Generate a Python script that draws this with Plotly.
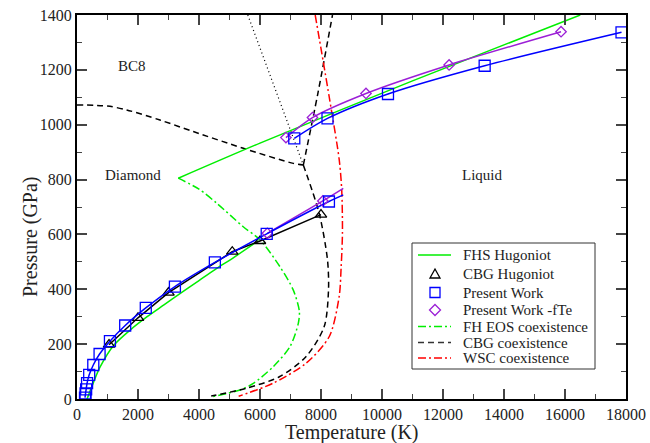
import plotly.graph_objects as go

# ---------------- data ----------------
# FHS Hugoniot (green solid), two branches
fhs_lower_T = [330, 450, 750, 1200, 1750, 2300, 2850, 3400, 4000, 4525, 5100, 5950]
fhs_lower_P = [0, 35, 115, 195, 252, 300, 343, 386, 432, 472, 513, 577]
fhs_upper_T = [3320, 6000, 11000, 16500]
fhs_upper_P = [805, 933, 1160, 1400]

# CBG Hugoniot (black triangles)
cbg_T = [1050, 2000, 3000, 5090, 6000, 8000]
cbg_P = [198, 296, 388, 537, 576, 672]

# Present Work (blue squares)
pw_lower_T = [262, 280, 300, 330, 400, 534, 740, 1080, 1580, 2255, 3210, 4520, 6220, 8260]
pw_lower_P = [5, 20, 35, 58, 88, 124, 164, 211, 268, 332, 410, 498, 602, 720]
pw_lower_end_T = [8730]
pw_lower_end_P = [744]
pw_upper_T = [7124, 8213, 10196, 13366, 17853]
pw_upper_P = [950, 1023, 1112, 1215, 1337]

# Present Work -fTe (purple diamonds)
fte_lower_T = [6240, 8060]
fte_lower_P = [604, 722]
fte_lower_end_T = [8730]
fte_lower_end_P = [768]
fte_upper_T = [6850, 7720, 9475, 12200, 15870]
fte_upper_P = [953, 1026, 1114, 1218, 1339]

# FH EOS coexistence (green dash-dot)
fh_coex_T = [3320, 4000, 4600, 5450, 6000, 6656, 7092, 7290, 7256, 6984, 6436, 5780, 5344, 4416]
fh_coex_P = [805, 765, 712, 628, 580, 482, 397, 320, 276, 191, 118, 57, 33, 8]

# CBG coexistence (black dashed): three branches meeting at a triple point
cbg_bc8_T = [0, 1000, 1629, 2721, 3813, 5453, 7092, 7420]
cbg_bc8_P = [1072, 1068, 1054, 1017, 975, 914, 859, 853]
cbg_melt_hi_T = [7420, 7890, 8377]
cbg_melt_hi_P = [853, 1110, 1400]
cbg_melt_lo_T = [7420, 7940, 8213, 8246, 8105, 7506, 6634, 5546, 4400]
cbg_melt_lo_P = [853, 677, 507, 397, 264, 154, 81, 39, 11]

# dotted black line (diamond/BC8 boundary)
dot_T = [5600, 7420]
dot_P = [1400, 853]

# WSC coexistence (red dash-dot)
wsc_T = [7810, 8268, 8600, 8680, 8703, 8660, 8595, 8268, 7506, 6416, 5300]
wsc_P = [1400, 1102, 870, 760, 604, 480, 373, 227, 130, 57, 10]

# region labels
region_labels = ["BC8", "Diamond", "Liquid"]
region_T = [1793, 1826, 13270]
region_P = [1214, 817, 817]

x_ticks = list(range(0, 18001, 2000))
x_tick_text = [str(v) for v in x_ticks]
y_ticks = list(range(0, 1401, 200))
y_tick_text = [str(v) for v in y_ticks]

x_title = "Temperature (K)"
y_title = "Pressure (GPa)"
legend_names = ["FHS Hugoniot", "CBG Hugoniot", "Present Work", "Present Work -fTe",
                "FH EOS coexistence", "CBG coexistence", "WSC coexistence"]

# ---------------- styling ----------------
FONT = "Liberation Serif"
GREEN = "#00ee00"
BLUE = "#0000ff"
PURPLE = "#9b1fd6"
RED = "#ff0000"
BLACK = "#000000"
TXT = "#222222"
LW = 1.5
DASH = "6px,4px"
DASHDOT = "8px,3px,2px,3px"

W, H = 650, 443
PLOT_L, PLOT_R, PLOT_T, PLOT_B = 77, 626, 15, 399   # plot area in page pixels
ML, MT, MR, MB = PLOT_L, PLOT_T, W - PLOT_R, H - PLOT_B
PW, PH = PLOT_R - PLOT_L, PLOT_B - PLOT_T

fig = go.Figure()

def line(x, y, color, dash="solid", width=LW, shape="spline"):
    fig.add_trace(go.Scatter(
        x=x, y=y, mode="lines", showlegend=False,
        line=dict(color=color, dash=dash, width=width, shape=shape, smoothing=0.8),
        hoverinfo="skip"))

def markers(x, y, color, symbol, size):
    fig.add_trace(go.Scatter(
        x=x, y=y, mode="markers", showlegend=False,
        marker=dict(symbol=symbol, size=size, color=color,
                    line=dict(color=color, width=1.3)),
        hoverinfo="skip"))

# coexistence lines
line(fh_coex_T, fh_coex_P, GREEN, dash=DASHDOT)
line(cbg_bc8_T, cbg_bc8_P, BLACK, dash=DASH)
line(cbg_melt_hi_T, cbg_melt_hi_P, BLACK, dash=DASH)
line(cbg_melt_lo_T, cbg_melt_lo_P, BLACK, dash=DASH)
line(dot_T, dot_P, BLACK, dash="1px,3px", width=1.2, shape="linear")
line(wsc_T, wsc_P, RED, dash=DASHDOT)

# Hugoniots
line(fhs_lower_T, fhs_lower_P, GREEN)
line(fhs_upper_T, fhs_upper_P, GREEN)
line(cbg_T, cbg_P, BLACK, shape="linear")
markers(cbg_T, cbg_P, BLACK, "triangle-up-open", 10)

line(fte_lower_T + fte_lower_end_T, fte_lower_P + fte_lower_end_P, PURPLE)
line(fte_upper_T, fte_upper_P, PURPLE)
line(pw_lower_T + pw_lower_end_T, pw_lower_P + pw_lower_end_P, BLUE)
line(pw_upper_T, pw_upper_P, BLUE)

markers(fte_lower_T + fte_upper_T, fte_lower_P + fte_upper_P, PURPLE, "diamond-open", 8)
markers(pw_lower_T + pw_upper_T, pw_lower_P + pw_upper_P, BLUE, "square-open", 11)

for lab, t, p in zip(region_labels, region_T, region_P):
    fig.add_annotation(x=t, y=p, text=lab, showarrow=False,
                       font=dict(family=FONT, size=15, color=TXT))

# ---------------- pixel layout helpers (page pixel -> paper coords) ----------------
def px(xp):
    return (xp - PLOT_L) / PW

def py(yp):
    return (PLOT_B - yp) / PH

# axis titles placed as annotations (no margin push)
fig.add_annotation(xref="paper", yref="paper", x=px(352), y=py(432.5), text=x_title,
                   showarrow=False, xanchor="center", yanchor="middle",
                   font=dict(family=FONT, size=20, color=TXT))
fig.add_annotation(xref="paper", yref="paper", x=px(30), y=py(237), text=y_title,
                   showarrow=False, xanchor="center", yanchor="middle", textangle=-90,
                   font=dict(family=FONT, size=20, color=TXT))

# ---------------- hand-drawn legend ----------------
shapes = []
LB_L, LB_R, LB_T, LB_B = 412, 595, 243, 369
shapes.append(dict(type="rect", xref="paper", yref="paper",
                   x0=px(LB_L), x1=px(LB_R), y0=py(LB_B), y1=py(LB_T),
                   line=dict(color="#333333", width=1), fillcolor="white", layer="below"))
row_y = [255, 274, 292.5, 310, 326.5, 342.5, 358]
sample_x0, sample_x1, sym_x, text_x = 418, 451, 435, 461
sample_styles = [("line", GREEN, "solid"), ("tri", BLACK, None), ("sq", BLUE, None),
                 ("dia", PURPLE, None), ("line", GREEN, DASHDOT), ("line", "#333333", DASH),
                 ("line", RED, DASHDOT)]

def path(points):
    return "M " + " L ".join(f"{px(a):.5f},{py(b):.5f}" for a, b in points) + " Z"

for (kind, col, dash), yv, name in zip(sample_styles, row_y, legend_names):
    if kind == "line":
        shapes.append(dict(type="line", xref="paper", yref="paper",
                           x0=px(sample_x0), x1=px(sample_x1), y0=py(yv), y1=py(yv),
                           line=dict(color=col, width=LW, dash=dash)))
    elif kind == "tri":
        shapes.append(dict(type="path", xref="paper", yref="paper",
                           path=path([(sym_x, yv - 5), (sym_x + 5, yv + 4), (sym_x - 5, yv + 4)]),
                           line=dict(color=col, width=1.3)))
    elif kind == "sq":
        shapes.append(dict(type="rect", xref="paper", yref="paper",
                           x0=px(sym_x - 5), x1=px(sym_x + 5), y0=py(yv + 5), y1=py(yv - 5),
                           line=dict(color=col, width=1.3)))
    else:
        shapes.append(dict(type="path", xref="paper", yref="paper",
                           path=path([(sym_x, yv - 5.5), (sym_x + 5.5, yv), (sym_x, yv + 5.5), (sym_x - 5.5, yv)]),
                           line=dict(color=col, width=1.3)))
    fig.add_annotation(xref="paper", yref="paper", x=px(text_x), y=py(yv), text=name,
                       showarrow=False, xanchor="left", yanchor="middle",
                       font=dict(family=FONT, size=15, color=TXT))

axis_common = dict(
    showline=True, linecolor=BLACK, linewidth=2, mirror="ticks",
    ticks="inside", ticklen=10, tickwidth=1.5, tickcolor="#444444",
    showgrid=False, zeroline=False, automargin=False,
    tickfont=dict(family=FONT, size=16, color=TXT),
    minor=dict(ticks="inside", ticklen=5, tickwidth=1.2, tickcolor="#444444", showgrid=False),
)

fig.update_xaxes(range=[0, 18000], tickvals=x_ticks, ticktext=x_tick_text, minor_dtick=1000,
                 **axis_common)
fig.update_yaxes(range=[0, 1400], tickvals=y_ticks, ticktext=y_tick_text, minor_dtick=100,
                 **axis_common)

fig.update_layout(
    width=W, height=H,
    margin=dict(l=ML, r=MR, t=MT, b=MB, autoexpand=False),
    paper_bgcolor="white", plot_bgcolor="white",
    font=dict(family=FONT, color=TXT),
    shapes=shapes,
    showlegend=False,
)

# remove the browser's default 8px body margin so the figure sits at the page origin
fig.write_html("out.html", config={"displayModeBar": False},
               post_script="document.body.style.margin='0px';document.body.style.padding='0px';")
